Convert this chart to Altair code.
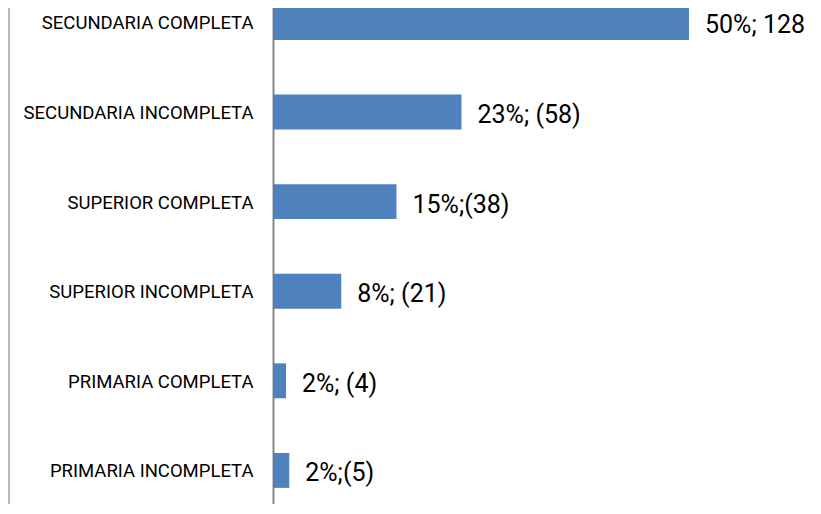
import altair as alt
import pandas as pd

categories = [
    "SECUNDARIA COMPLETA",
    "SECUNDARIA INCOMPLETA",
    "SUPERIOR COMPLETA",
    "SUPERIOR INCOMPLETA",
    "PRIMARIA COMPLETA",
    "PRIMARIA INCOMPLETA",
]
counts = [128, 58, 38, 21, 4, 5]
labels = ["50%; 128", "23%; (58)", "15%;(38)", "8%; (21)", "2%; (4)", "2%;(5)"]

df = pd.DataFrame({"cat": categories, "n": counts, "label": labels})

FONT = "Roboto"

y = alt.Y(
    "cat:N",
    sort=categories,
    title=None,
    scale=alt.Scale(paddingInner=0.61, paddingOuter=0.09, align=0),
    axis=alt.Axis(
        domainColor="#888888",
        domainWidth=2,
        ticks=False,
        labelFontSize=18.5,
        labelFont=FONT,
        labelColor="#000000",
        labelPadding=20,
        labelLimit=300,
        labelOffset=1,
    ),
)
x = alt.X("n:Q", scale=alt.Scale(domain=[0, 160]), axis=None)

bars = alt.Chart(df).mark_bar(color="#4F81BD").encode(x=x, y=y)
text = alt.Chart(df).mark_text(
    align="left", baseline="middle", dx=16, dy=3, fontSize=25, font=FONT, color="#000000"
).encode(x=x, y=y, text="label:N")
border = alt.Chart(pd.DataFrame({"a": [0]})).mark_rule(
    color="#a0a0a0", strokeWidth=1.5
).encode(x=alt.value(-264), y=alt.value(0), y2=alt.value(499))

chart = (
    alt.layer(bars, text, border)
    .properties(
        width=520,
        height=499,
        autosize=alt.AutoSizeParams(type="none"),
        padding={"left": 265, "top": -3, "right": 20, "bottom": 0},
    )
    .configure_view(stroke=None)
)

chart.save("out.html", embed_options={"renderer": "svg", "actions": False})
